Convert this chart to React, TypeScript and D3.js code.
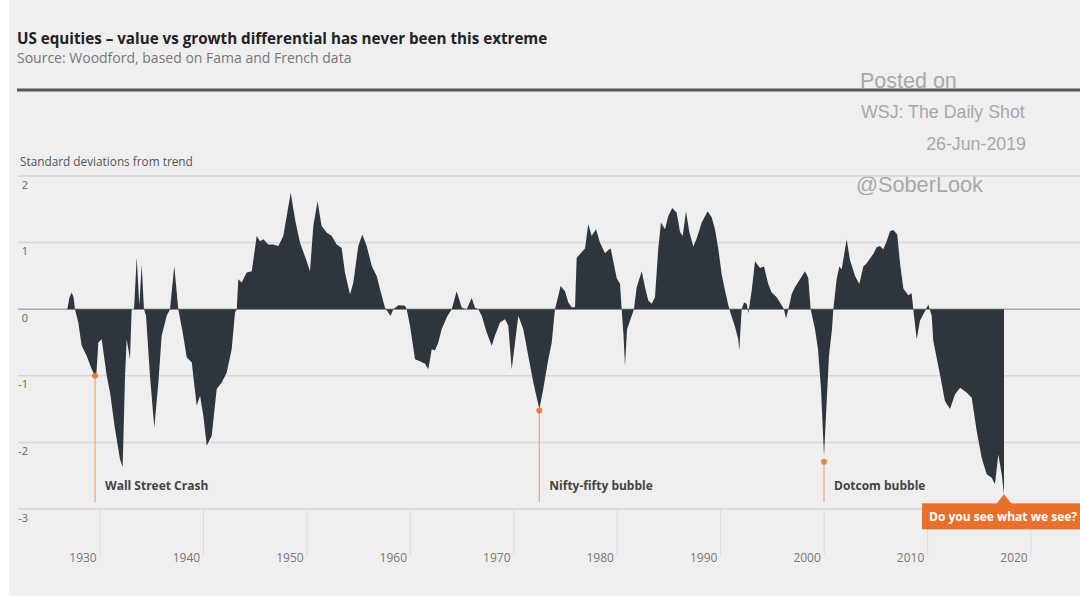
import React, { Component } from 'react';
import * as d3 from 'd3';

// value vs growth, standard deviations from trend
const seriesYears = [
  1926.84, 1927.05, 1927.26, 1927.44, 1927.58, 1927.9, 1928.23, 1928.71, 1929.2, 1929.52, 1929.66, 1929.84,
  1930.16, 1930.65, 1930.97, 1931.45, 1931.93, 1932.19, 1932.42, 1932.58, 1932.9, 1933.06, 1933.29, 1933.55,
  1933.8, 1934.03, 1934.25, 1934.45, 1934.83, 1935.25, 1935.64, 1935.96, 1936.45, 1936.77, 1937.18, 1937.57,
  1938.05, 1938.38, 1938.87, 1939.35, 1939.67, 1939.99, 1940.32, 1940.8, 1941.28, 1941.77, 1942.25, 1942.73,
  1943.05, 1943.22, 1943.37, 1943.7, 1944.18, 1944.67, 1945.15, 1945.47, 1945.79, 1946.27, 1946.75, 1947.24,
  1947.72, 1948.05, 1948.44, 1948.85, 1949.33, 1949.98, 1950.3, 1950.62, 1951.03,
  1951.42, 1951.91, 1952.4, 1952.88, 1953.36, 1953.68, 1954.17, 1954.49, 1954.97, 1955.36, 1955.78, 1956.27,
  1956.75, 1957.07, 1957.55, 1957.87, 1958.1, 1958.35, 1958.84, 1959.48, 1959.65, 1959.97, 1960.45, 1960.93,
  1961.42, 1961.74, 1962.07, 1962.38, 1962.7, 1963.03, 1963.52, 1964.0, 1964.48, 1964.97, 1965.45, 1965.93,
  1966.25, 1966.57, 1966.9, 1967.38, 1967.87, 1968.18, 1968.67, 1969.15, 1969.47, 1969.8, 1970.12, 1970.44,
  1970.92, 1971.4, 1971.89, 1972.47, 1972.85, 1973.34, 1973.67, 1973.98, 1974.3, 1974.53, 1974.95, 1975.27,
  1975.6, 1975.92, 1976.08, 1976.57, 1976.89, 1977.2, 1977.53, 1977.95, 1978.33, 1978.82, 1979.14, 1979.37,
  1979.62, 1979.95, 1980.27, 1980.43, 1980.61, 1980.75, 1980.95, 1981.4, 1981.62, 1981.88, 1982.37, 1982.69,
  1983.0, 1983.33, 1983.65, 1983.97, 1984.23, 1984.62, 1984.94, 1985.32, 1985.75, 1986.07, 1986.33, 1986.65,
  1986.97, 1987.35, 1987.68, 1988.17, 1988.74, 1989.13, 1989.45, 1989.77, 1990.1, 1990.42, 1990.74, 1990.96,
  1991.38, 1991.7, 1991.8, 1992.03, 1992.26, 1992.52, 1992.67, 1993.0, 1993.32, 1993.8, 1994.19, 1994.6,
  1994.93, 1995.42, 1995.9, 1996.12, 1996.32, 1996.54, 1996.87, 1997.18, 1997.67, 1998.15, 1998.47, 1998.7,
  1999.12, 1999.41, 1999.7, 1999.99, 2000.18, 2000.47, 2000.76, 2000.89,
  2001.21, 2001.47, 2001.7, 2002.18, 2002.5, 2002.99, 2003.4, 2003.79, 2004.12, 2004.44, 2004.76, 2005.08,
  2005.4, 2005.72, 2006.05, 2006.37, 2006.69, 2007.07, 2007.34, 2007.66, 2008.14, 2008.46, 2008.62, 2008.95,
  2009.27, 2009.85, 2010.07, 2010.4, 2010.55, 2011.2, 2011.68, 2012.17, 2012.65, 2013.14, 2013.78, 2014.27,
  2014.75, 2015.23, 2015.72, 2016.2, 2016.52, 2016.84, 2017.17, 2017.39,
];

const seriesValues = [
  0, 0.18, 0.25, 0.18, 0, -0.2, -0.55, -0.7, -0.9, -1.0, -0.95, -0.5,
  -0.45, -1.0, -1.25, -1.8, -2.25, -2.37, -1.0, -0.45, -0.75, 0, 0, 0.78,
  0.05, 0.67, 0, -0.1, -1.0, -1.78, -1.1, -0.4, -0.1, 0, 0.65, 0,
  -0.4, -0.72, -0.8, -1.45, -1.3, -1.6, -2.05, -1.9, -1.2, -1.1, -0.95, -0.6,
  -0.05, 0, 0.45, 0.4, 0.55, 0.57, 1.1, 1.02, 1.05, 0.97, 0.97, 0.95,
  1.1, 1.4, 1.75, 1.35, 1.0, 0.72, 0.57, 1.25, 1.62,
  1.25, 1.15, 1.1, 0.97, 0.92, 0.55, 0.22, 0.4, 0.95, 1.12, 0.95, 0.65,
  0.5, 0.3, 0.02, -0.05, -0.1, 0, 0.06, 0.05, 0, -0.25, -0.75, -0.78,
  -0.82, -0.9, -0.6, -0.62, -0.5, -0.3, -0.12, 0, 0.27, 0.02, 0, 0.17,
  0.02, 0, -0.1, -0.35, -0.55, -0.4, -0.2, -0.15, -0.25, -0.9, -0.5, -0.1,
  -0.3, -0.7, -1.1, -1.5, -1.2, -0.75, -0.5, 0, 0.2, 0.35, 0.27, 0.1,
  0.03, 0.03, 0.77, 0.86, 0.91, 1.28, 1.1, 1.2, 1.0, 0.84, 0.89, 0.91,
  0.72, 0.47, 0.38, 0, -0.4, -0.85, -0.3, -0.1, 0, 0.33, 0.57, 0.33,
  0.13, 0.08, 0.18, 0.91, 1.3, 1.2, 1.4, 1.52, 1.45, 1.16, 1.1, 1.47,
  1.16, 0.94, 1.06, 1.3, 1.47, 1.38, 1.2, 0.91, 0.52, 0.28, 0.06, -0.06,
  -0.26, -0.45, -0.62, 0, 0.1, 0.08, -0.06, 0.28, 0.72, 0.62, 0.64, 0.38,
  0.25, 0.18, 0.06, 0, -0.14, 0, 0.23, 0.33, 0.45, 0.57, 0.47, 0,
  -0.3, -0.6, -1.2, -2.2, -1.6, -0.7, -0.3, 0,
  0.45, 0.64, 0.6, 1.05, 0.74, 0.5, 0.38, 0.64, 0.69, 0.76, 0.83, 0.93,
  0.95, 0.9, 1.02, 1.17, 1.19, 1.12, 0.69, 0.31, 0.21, 0.24, 0, -0.45,
  -0.17, 0, 0.07, -0.1, -0.47, -0.98, -1.38, -1.5, -1.28, -1.18, -1.25, -1.33,
  -1.83, -2.23, -2.48, -2.53, -2.63, -2.18, -2.48, -2.78,
];

const yTicks = [2, 1, 0, -1, -2, -3];
const xTicks = [1930, 1940, 1950, 1960, 1970, 1980, 1990, 2000, 2010, 2020];

// the three bubbles marked on the chart
const eventYears = [1929.52, 1972.47, 1999.99];
const eventValues = [-1.0, -1.52, -2.29];
const eventLabels = ['Wall Street Crash', 'Nifty-fifty bubble', 'Dotcom bubble'];

const calloutText = 'Do you see what we see?';

class ValueGrowthChart extends Component {

  drawChart() {
    const W = 1080;
    const H = 596;

    // plot box, found from the gridlines of the original
    const x = d3.scaleLinear().domain([1930, 2020]).range([100, 1031]);
    const y = d3.scaleLinear().domain([-3, 2]).range([509, 176]);

    const points = seriesYears.map((yr, i) => ({ year: yr, value: seriesValues[i] }));

    const area = d3.area<{ year: number; value: number }>()
      .x(d => x(d.year))
      .y0(y(0))
      .y1(d => y(d.value))
      .curve(d3.curveLinear);

    const last = points[points.length - 1];
    const cx = x(last.year);
    const cy = y(last.value);

    const font = "'Open Sans', 'Noto Sans', sans-serif";
    const orange = '#e8702a';

    return (
      <svg width={W} height={H} style={{ position: 'absolute', left: 0, top: 0 }} fontFamily={font}>
        <rect x={0} y={0} width={W} height={H} fill="#ffffff" />
        <rect x={9} y={0} width={W - 9} height={H} fill="#efefef" />

        {/* title block */}
        <text x={17} y={44} fontSize={15.2} fontWeight={700} fill="#222">
          US equities – value vs growth differential has never been this extreme
        </text>
        <text x={17} y={63} fontSize={14} fill="#777">
          Source: Woodford, based on Fama and French data
        </text>

        {/* watermark */}
        <g fontFamily="'Liberation Sans', Arial, sans-serif" fill="#a8a8a8">
          <text x={860} y={88} fontSize={21.5}>Posted on</text>
          <text x={861} y={118} fontSize={17.8}>WSJ: The Daily Shot</text>
          <text x={1026} y={150} fontSize={17.8} textAnchor="end">26-Jun-2019</text>
          <text x={856} y={192} fontSize={21.7}>@SoberLook</text>
        </g>

        <rect x={17} y={88.5} width={W - 17} height={3} fill="#555" />

        <text x={20} y={166} fontSize={11.8} fill="#555">Standard deviations from trend</text>

        {/* horizontal gridlines */}
        {yTicks.map(t => (
          <line key={'g' + t} x1={18} x2={W} y1={y(t)} y2={y(t)}
            stroke={t === 0 ? '#a8a8a8' : '#d6d6d6'} strokeWidth={1.5} />
        ))}
        {yTicks.map(t => (
          <text key={'yl' + t} x={28} y={y(t) + 12.5} fontSize={11} fill="#666" textAnchor="end">{t}</text>
        ))}

        {/* x ticks sit under the -3 line, labels a bit left of them */}
        {xTicks.map(t => (
          <g key={'x' + t}>
            <line x1={x(t)} x2={x(t)} y1={y(-3)} y2={y(-3) + 47} stroke="#dcdcdc" strokeWidth={1} />
            <text x={x(t) - 17} y={562} fontSize={12} fill="#777" textAnchor="middle">{t}</text>
          </g>
        ))}

        <path d={area(points) || ''} fill="#2f353d" />

        {/* event markers */}
        {eventYears.map((yr, i) => (
          <g key={'ev' + i}>
            <line x1={x(yr)} x2={x(yr)} y1={y(eventValues[i])} y2={y(-2.9)} stroke="#f2a579" strokeWidth={1.2} />
            <circle cx={x(yr)} cy={y(eventValues[i])} r={3} fill={orange} opacity={0.85} />
            <text x={x(yr) + 10} y={y(-2.9) - 12} fontSize={12} fontWeight={700} fill="#444">
              {eventLabels[i]}
            </text>
          </g>
        ))}

        {/* callout at the last point */}
        <path d={`M${cx - 8},${cy + 10} L${cx},${cy} L${cx + 8},${cy + 10} Z`} fill={orange} />
        <rect x={cx - 82} y={cy + 9} width={W - (cx - 82)} height={26} fill={orange} />
        <text x={cx - 75} y={cy + 26.5} fontSize={12} fontWeight={700} fill="#fff">{calloutText}</text>
      </svg>
    );
  }

  render() {
    return (
      <div className="chart-wrapper">
        {this.drawChart()}
      </div>
    );
  }
}

export default function App() {
  return <ValueGrowthChart />;
}
